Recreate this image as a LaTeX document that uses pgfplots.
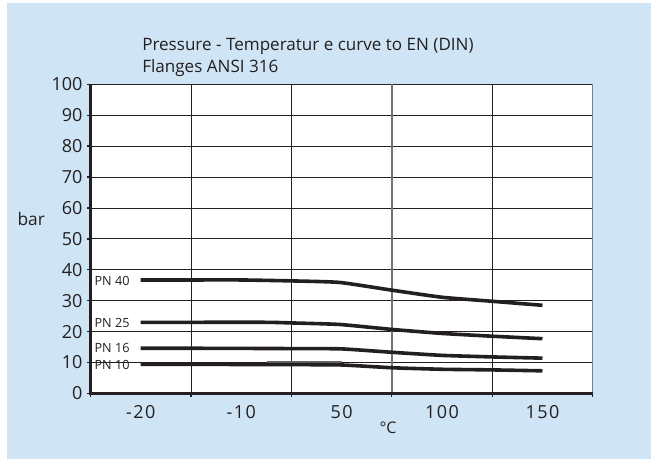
\documentclass[border=0pt]{standalone}
\usepackage{pgfplots}
\pgfplotsset{compat=1.18}
\usetikzlibrary{backgrounds}
\usepackage{fontspec}
\setmainfont{Open Sans}
\newfontfamily\spaced[LetterSpace=8]{Open Sans}
\definecolor{bg}{HTML}{CFE5F6}
\definecolor{ink}{HTML}{231F20}
\begin{document}
\begin{tikzpicture}[x=0.75pt,y=0.75pt]
\begin{axis}[
  at={(67.875pt,49.2pt)}, anchor=south west,
  scale only axis, width=376.65pt, height=231.8pt,
  xmin=0, xmax=5, ymin=0, ymax=100,
  axis background/.style={fill=white},
  axis line style={ink, line width=0.6pt},
  xtick={0,1,2,3,4,5}, xticklabels={},
  ytick={0,10,...,100},
  xtick pos=bottom, ytick pos=left,
  grid=major, major grid style={ink, line width=0.6pt},
  tick align=outside, major tick length=2.5pt,
  tick style={ink, line width=1pt},
  /pgf/number format/assume math mode=true,
  yticklabel style={font=\fontsize{13.5}{13.5}\selectfont, text=ink},
  extra x ticks={0.5,1.5,2.5,3.5,4.5},
  extra x tick labels={-20,-10,50,100,150},
  extra x tick style={grid=none, major tick length=0pt,
    tick label style={font=\spaced\fontsize{13.5}{13.5}\selectfont, text=ink, anchor=center, yshift=-13.7pt}},
  clip=false,
]
\draw[black!55, line width=1.4pt] (axis cs:3,0) -- (axis cs:3,100);
\draw[black!50, line width=1pt] (axis cs:5,0) -- (axis cs:5,100);
\draw[ink, line width=2pt] (axis cs:0,100) -- (axis cs:0,0) -- (axis cs:5,0);
\addplot[black!60, line width=1.4pt] coordinates {(1.76,10.05)(2.5,10.05)};
\addplot[ink, line width=2.7pt, smooth, tension=0.3] coordinates {(0.5,36.7)(1.0,36.7)(1.5,36.7)(2.0,36.4)(2.48,35.9)(3.0,33.4)(3.5,31.1)(4.0,29.8)(4.5,28.5)};
\addplot[ink, line width=2.7pt, smooth, tension=0.3] coordinates {(0.5,23.0)(1.0,23.0)(1.75,23.0)(2.0,22.8)(2.48,22.3)(3.0,20.7)(3.5,19.4)(4.0,18.5)(4.5,17.7)};
\addplot[ink, line width=2.7pt, smooth, tension=0.3] coordinates {(0.5,14.6)(1.0,14.6)(2.0,14.5)(2.5,14.4)(3.0,13.3)(3.5,12.3)(4.0,11.8)(4.5,11.4)};
\addplot[ink, line width=2.7pt, smooth, tension=0.3] coordinates {(0.5,9.4)(1.0,9.4)(2.0,9.3)(2.5,9.2)(3.0,8.3)(3.5,7.8)(4.0,7.6)(4.5,7.3)};
\node[anchor=west, inner sep=0, font=\fontsize{9.5}{9.5}\selectfont, text=ink] at (axis cs:0.038,36.4) {PN 40};
\node[anchor=west, inner sep=0, font=\fontsize{9.5}{9.5}\selectfont, text=ink] at (axis cs:0.038,22.9) {PN 25};
\node[anchor=west, inner sep=0, font=\fontsize{9.5}{9.5}\selectfont, text=ink] at (axis cs:0.038,14.8) {PN 16};
\node[anchor=west, inner sep=0, font=\fontsize{9.5}{9.5}\selectfont, text=ink] at (axis cs:0.038,9.2) {PN 10};
\end{axis}
\node[anchor=base west, inner sep=0, font=\fontsize{12.8}{12.8}\selectfont, text=ink] at (142,408.3) {Pressure - Temperatur e curve to EN (DIN)};
\node[anchor=base west, inner sep=0, font=\fontsize{12.8}{12.8}\selectfont, text=ink] at (142,386.3) {Flanges ANSI 316};
\node[anchor=base west, inner sep=0, font=\fontsize{13}{13}\selectfont, text=ink] at (17.3,233.3) {bar};
\node[inner sep=0, font=\fontsize{12}{12}\selectfont, text=ink] at (388,31) {°C};
\begin{scope}[on background layer]
\fill[white] (0,0) rectangle (651,459);
\fill[bg] (7,0) rectangle (651,456);
\end{scope}
\end{tikzpicture}
\end{document}
